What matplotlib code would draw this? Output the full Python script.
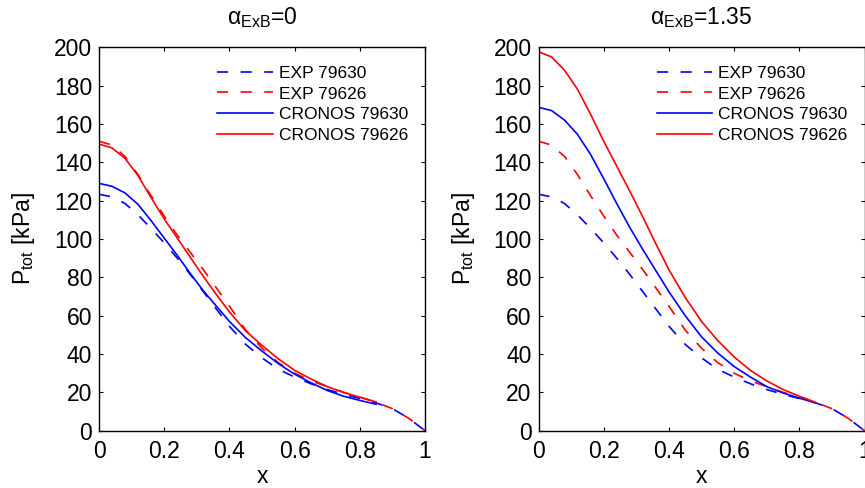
import matplotlib
matplotlib.use("Agg")
import matplotlib.pyplot as plt

plt.rcParams['font.family'] = ['Liberation Sans', 'DejaVu Sans']
plt.rcParams['mathtext.fontset'] = 'custom'
plt.rcParams['mathtext.rm'] = 'Liberation Sans'
plt.rcParams['mathtext.it'] = 'Liberation Sans:italic'
plt.rcParams['lines.scale_dashes'] = False

# ---------------- data ----------------
# experimental profiles (same in both panels)
x_exp = [0.00, 0.04, 0.08, 0.12, 0.16, 0.20, 0.24, 0.28, 0.32, 0.36, 0.40, 0.45,
         0.50, 0.55, 0.60, 0.65, 0.70, 0.75, 0.80, 0.85, 0.90, 0.95, 1.00]
exp_79630 = [123.3, 122.0, 118.5, 112.5, 105.5, 98.0, 90.0, 81.5, 72.5, 63.5, 54.5, 45.0,
             38.0, 32.0, 28.0, 24.5, 21.5, 19.0, 16.8, 14.5, 11.5, 6.5, 0.0]
exp_79626 = [151.0, 149.0, 143.0, 133.5, 122.5, 112.0, 102.0, 93.0, 84.0, 74.5, 65.0, 52.5,
             43.0, 35.5, 30.0, 26.0, 23.0, 20.0, 17.5, 14.8, 11.5, 6.5, 0.0]

# CRONOS simulations
x_sim = [0.00, 0.04, 0.08, 0.12, 0.16, 0.20, 0.24, 0.28, 0.32, 0.36, 0.40, 0.45,
         0.50, 0.55, 0.60, 0.65, 0.70, 0.75, 0.80, 0.85]
# alpha_ExB = 0
cronos_79630_a0 = [129.0, 127.5, 124.0, 118.0, 109.5, 100.5, 91.5, 82.0, 73.0, 65.0, 57.0, 48.5,
                   41.5, 35.0, 29.5, 25.0, 21.0, 18.0, 15.8, 13.8]
cronos_79626_a0 = [149.5, 147.5, 142.0, 133.0, 121.5, 110.5, 100.5, 90.5, 80.5, 71.0, 62.0, 52.0,
                   44.5, 37.5, 31.5, 27.0, 23.0, 20.0, 17.5, 15.0]
# alpha_ExB = 1.35
cronos_79630_a1 = [168.7, 167.0, 162.0, 154.5, 144.0, 131.5, 118.5, 106.0, 94.5, 83.5, 72.5, 60.0,
                   49.0, 40.5, 33.5, 28.0, 23.0, 19.7, 17.0, 14.5]
cronos_79626_a1 = [197.7, 195.0, 188.0, 178.0, 165.0, 151.0, 138.0, 125.0, 111.5, 97.5, 84.0, 69.5,
                   57.0, 47.0, 38.5, 31.5, 26.0, 21.5, 18.0, 14.8]

titles = ['α$_{\\mathregular{ExB}}$=0', 'α$_{\\mathregular{ExB}}$=1.35']
labels = ['EXP 79630', 'EXP 79626', 'CRONOS 79630', 'CRONOS 79626']
yticks = [0, 20, 40, 60, 80, 100, 120, 140, 160, 180, 200]
xticks = [0, 0.2, 0.4, 0.6, 0.8, 1]
xticklabels = ['0', '0.2', '0.4', '0.6', '0.8', '1']

sims = [(cronos_79630_a0, cronos_79626_a0), (cronos_79630_a1, cronos_79626_a1)]

# ---------------- figure ----------------
W, H = 865, 488
fig = plt.figure(figsize=(W / 100, H / 100), dpi=100)
ax_l = fig.add_axes([99 / W, (H - 430.7) / H, 326 / W, 383.4 / H])
ax_r = fig.add_axes([538.5 / W, (H - 430.7) / H, 326 / W, 383.4 / H])

lw = 1.2
dash = (8, 9)
for ax, title, (s30, s26) in zip([ax_l, ax_r], titles, sims):
    ax.plot(x_exp, exp_79630, color=(0, 0, 1), lw=lw, dashes=dash, label=labels[0])
    ax.plot(x_exp, exp_79626, color=(1, 0, 0), lw=lw, dashes=dash, label=labels[1])
    ax.plot(x_sim, s30, color=(0, 0, 1), lw=lw, label=labels[2])
    ax.plot(x_sim, s26, color=(1, 0, 0), lw=lw, label=labels[3])
    ax.set_xlim(0, 1)
    ax.set_ylim(0, 200)
    ax.set_xticks(xticks)
    ax.set_xticklabels(xticklabels)
    ax.set_yticks(yticks)
    ax.tick_params(direction='in', top=True, right=True, length=3, width=0.8,
                   labelsize=16.5, colors='black')
    ax.tick_params(axis='x', pad=7)
    ax.tick_params(axis='y', pad=5)
    for sp in ax.spines.values():
        sp.set_linewidth(1.0)
    ax.set_xlabel('x', fontsize=16.5, labelpad=1)
    ax.set_ylabel('P$_{\\mathregular{tot}}$ [kPa]', fontsize=16.5, labelpad=12)
    ax.set_title(title, fontsize=16.5, pad=17)
    ax.legend(loc='upper left', bbox_to_anchor=(0.362, 0.952), frameon=False,
              fontsize=12.5, borderpad=0, borderaxespad=0, handlelength=3.2,
              handletextpad=0.35, labelspacing=0.32)

fig.savefig('out.png', dpi=100)
